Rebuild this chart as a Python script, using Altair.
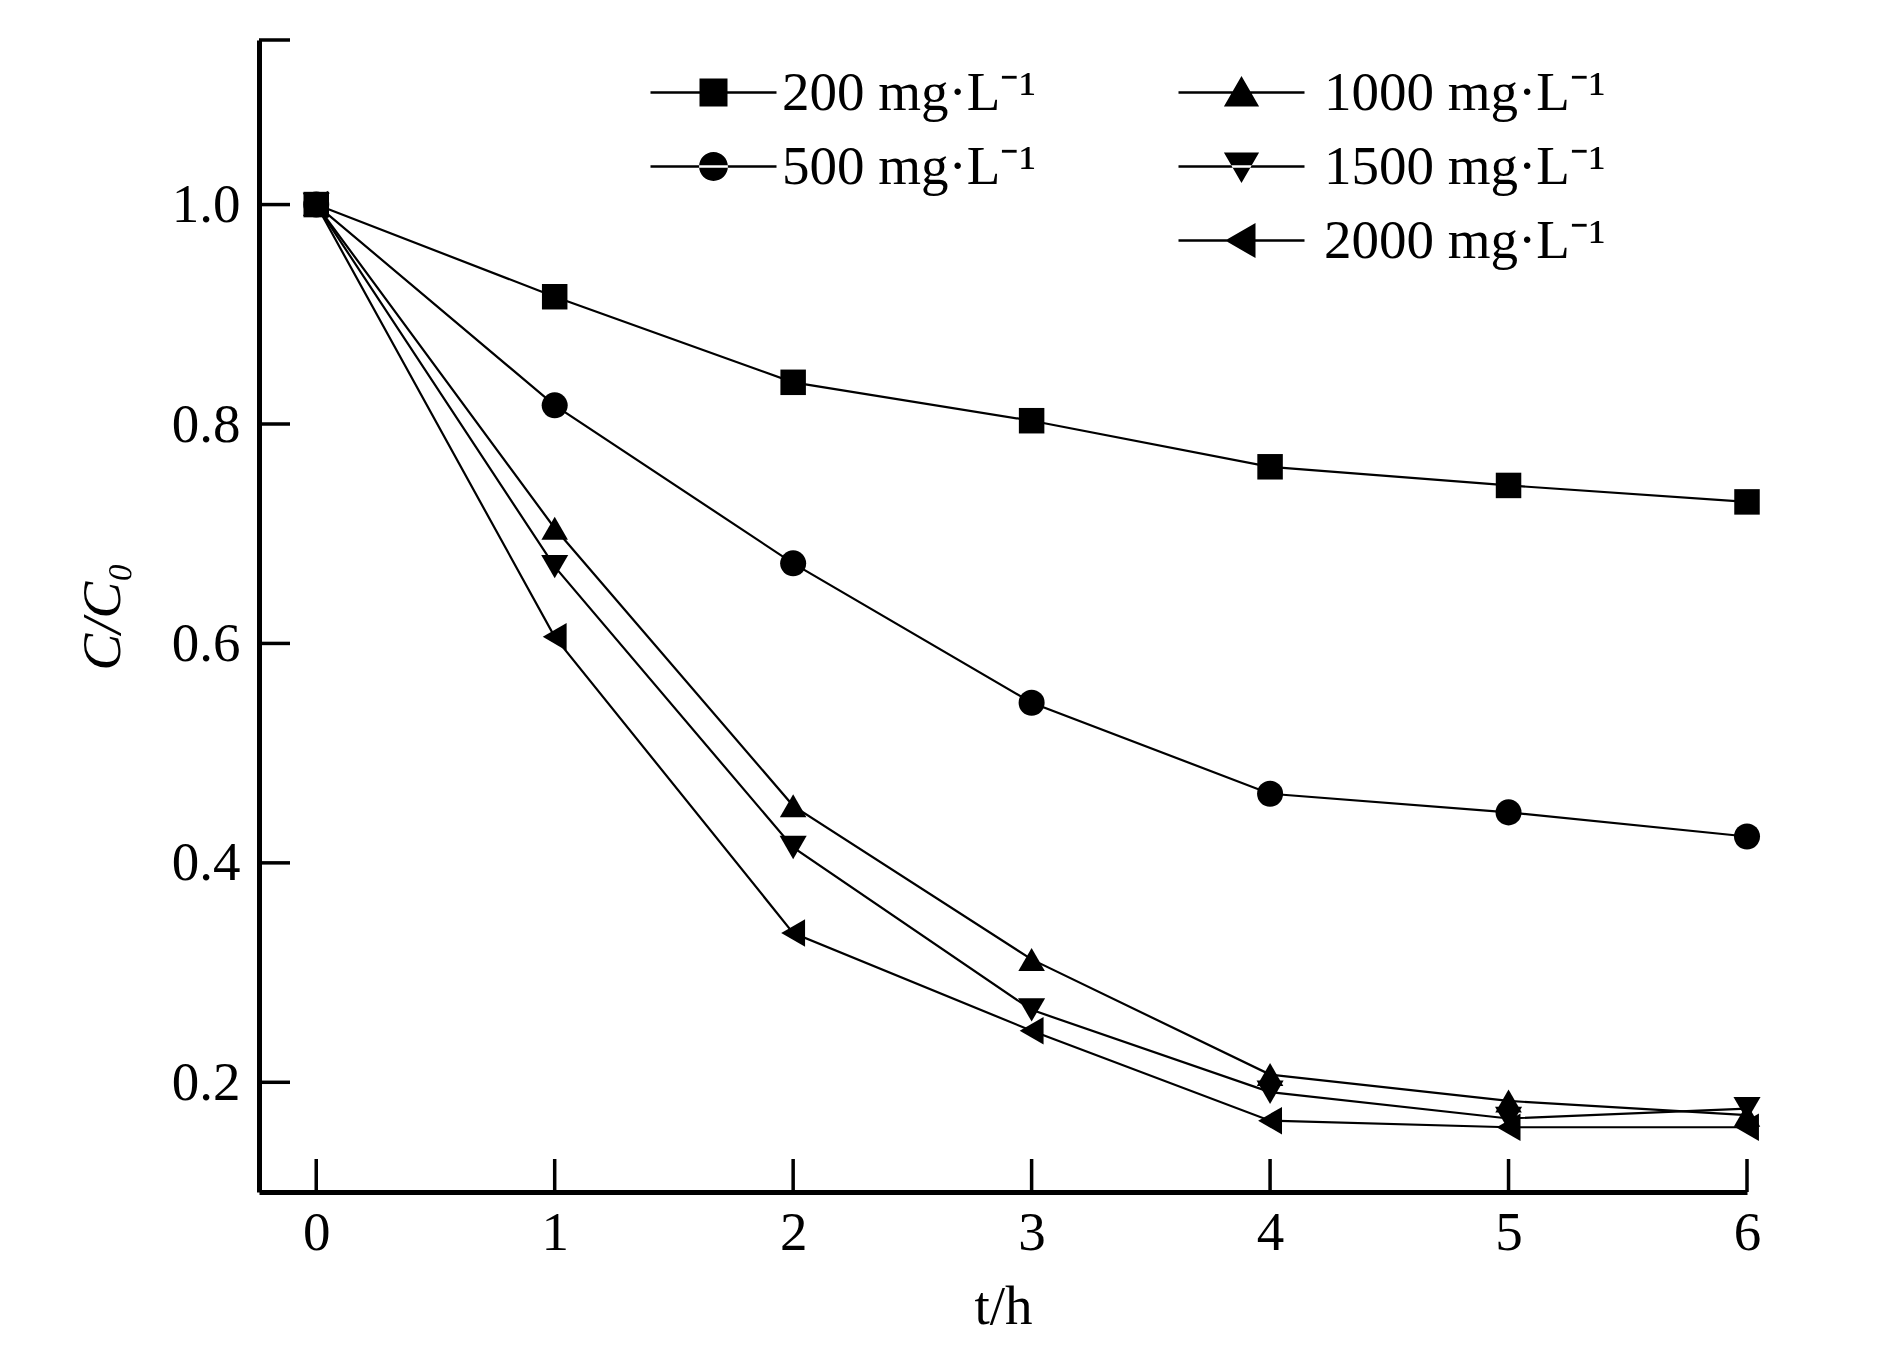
import altair as alt
import pandas as pd

times = [0, 1, 2, 3, 4, 5, 6]
series_labels = ["200 mg·L⁻¹", "500 mg·L⁻¹", "1000 mg·L⁻¹", "1500 mg·L⁻¹", "2000 mg·L⁻¹"]
c200 = [1.0, 0.916, 0.838, 0.803, 0.761, 0.744, 0.729]
c500 = [1.0, 0.817, 0.673, 0.546, 0.463, 0.446, 0.424]
c1000 = [1.0, 0.705, 0.452, 0.312, 0.207, 0.183, 0.170]
c1500 = [1.0, 0.670, 0.414, 0.266, 0.191, 0.167, 0.176]
c2000 = [1.0, 0.606, 0.336, 0.247, 0.165, 0.159, 0.159]
x_ticks = [0, 1, 2, 3, 4, 5, 6]
y_ticks = [0.2, 0.4, 0.6, 0.8, 1.0, 1.15]
y_labels = [0.2, 0.4, 0.6, 0.8, 1.0]

W, H = 1488, 1152
FONT = "Liberation Serif"
FS = 55

rows = []
for lab, vals in zip(series_labels, [c200, c500, c1000, c1500, c2000]):
    for t, v in zip(times, vals):
        rows.append({"t": t, "c": v, "series": lab})
df = pd.DataFrame(rows)

xs = alt.Scale(domain=[-0.24, 6], nice=False, zero=False)
ys = alt.Scale(domain=[0.1, 1.15], nice=False, zero=False)

x_enc = alt.X("t:Q", scale=xs, axis=alt.Axis(
    values=x_ticks, format="d", tickSize=0, labelPadding=14, grid=False,
    labelFlush=False, labelOverlap=False,
    domainWidth=5, domainColor="black", labelFont=FONT, labelFontSize=FS,
    labelColor="black", title="t/h", titleFont=FONT, titleFontSize=FS,
    titleFontWeight="normal", titleColor="black", titlePadding=20))
y_enc = alt.Y("c:Q", scale=ys, axis=alt.Axis(
    values=y_labels, format=".1f", tickSize=0, labelPadding=19, grid=False,
    labelFlush=False, labelOverlap=False,
    domainWidth=5, domainColor="black", labelFont=FONT, labelFontSize=FS,
    labelColor="black", title="C/C₀", titleFont=FONT, titleFontSize=FS,
    titleFontWeight="normal", titleFontStyle="italic", titleColor="black",
    titlePadding=40))

lines = alt.Chart(df).mark_line(color="black", strokeWidth=2.2).encode(
    x=x_enc, y=y_enc, detail="series:N")

points = alt.Chart(df).mark_point(filled=True, color="black", opacity=1).encode(
    x=alt.X("t:Q", scale=xs),
    y=alt.Y("c:Q", scale=ys),
    shape=alt.Shape("series:N", scale=alt.Scale(
        domain=series_labels,
        range=["square", "circle", "triangle-up", "triangle-down", "triangle-left"]),
        legend=None),
    size=alt.Size("series:N", scale=alt.Scale(
        domain=series_labels, range=[650, 760, 1050, 1050, 1050]), legend=None),
)

xt = pd.DataFrame({"t": x_ticks})
yt = pd.DataFrame({"c": y_ticks})
xtick_rules = alt.Chart(xt).mark_rule(color="black", strokeWidth=3.5).encode(
    x=alt.X("t:Q", scale=xs), y=alt.value(H), y2=alt.value(H - 33))
ytick_rules = alt.Chart(yt).mark_rule(color="black", strokeWidth=3.5).encode(
    y=alt.Y("c:Q", scale=ys), x=alt.value(0), x2=alt.value(31))

LINE = "M-3.15,-0.06H3.15V0.06H-3.15Z"
paths = {
    "200 mg·L⁻¹": LINE + "M-0.7,-0.7H0.7V0.7H-0.7Z",
    "500 mg·L⁻¹": LINE + "M-0.72,0A0.72,0.72 0 1,0 0.72,0A0.72,0.72 0 1,0 -0.72,0Z",
    "1000 mg·L⁻¹": LINE + "M0,-0.82L0.88,0.7L-0.88,0.7Z",
    "1500 mg·L⁻¹": LINE + "M0,0.82L0.88,-0.7L-0.88,-0.7Z",
    "2000 mg·L⁻¹": LINE + "M-0.82,0L0.7,-0.88L0.7,0.88Z",
}


def legend_layer(labs, lx, ly, loff):
    return alt.Chart(df).transform_filter("datum.t < -100").mark_point(
        filled=True, fill="black", opacity=1
    ).encode(
        x=alt.X("t:Q", scale=xs),
        y=alt.Y("c:Q", scale=ys),
        shape=alt.Shape("series:N", scale=alt.Scale(
            domain=labs, range=[paths[l] for l in labs]),
            legend=alt.Legend(
                title=None, orient="none", legendX=lx, legendY=ly,
                symbolSize=1600, symbolFillColor="black",
                symbolOpacity=1, labelOffset=loff,
                labelFont=FONT, labelFontSize=FS, labelColor="black",
                labelLimit=1000, rowPadding=18, padding=0)),
    )


legA = legend_layer(series_labels[:2], 427, 25, 41)
legB = legend_layer(series_labels[2:], 955, 25, 55)

chart = alt.layer(lines, points, xtick_rules, ytick_rules, legA, legB).resolve_scale(
    shape="independent", size="independent"
).properties(
    width=W, height=H,
    background="white",
    padding={"left": 251, "top": 32, "right": 120, "bottom": 160},
    autosize=alt.AutoSizeParams(type="none"),
).configure_view(stroke="transparent", strokeWidth=0)

chart.save("out.html", embed_options={"renderer": "svg", "actions": False})
